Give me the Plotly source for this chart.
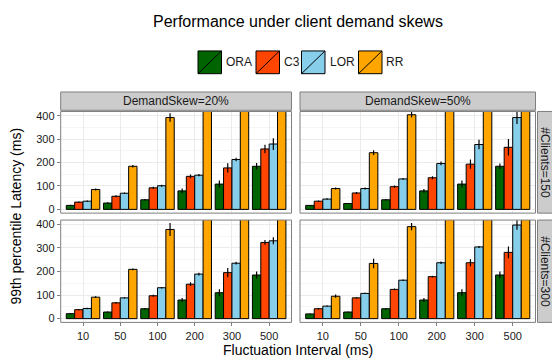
import plotly.graph_objects as go

W, H = 552, 360

intervals = ["10", "50", "100", "200", "300", "500"]
algorithms = ["ORA", "C3", "LOR", "RR"]
colors = {"ORA": "#006400", "C3": "#FF4500", "LOR": "#87CEEB", "RR": "#FFA500"}

# DemandSkew=20%, #Clients=150
s20_c150 = {
    "ORA": [17, 27, 41, 79, 108, 184],
    "C3": [31, 56, 92, 141, 177, 258],
    "LOR": [35, 69, 101, 146, 213, 279],
    "RR": [85, 184, 392, 600, 700, 900],
}
s20_c150_err = {
    "ORA": [3, 3, 3, 10, 15, 14],
    "C3": [3, 4, 5, 8, 20, 18],
    "LOR": [3, 3, 4, 5, 7, 25],
    "RR": [4, 5, 18, 20, 20, 20],
}
# DemandSkew=50%, #Clients=150
s50_c150 = {
    "ORA": [17, 25, 41, 79, 108, 184],
    "C3": [35, 70, 97, 135, 193, 265],
    "LOR": [44, 89, 130, 196, 277, 392],
    "RR": [89, 242, 404, 650, 750, 950],
}
s50_c150_err = {
    "ORA": [2, 2, 3, 8, 15, 12],
    "C3": [3, 4, 5, 6, 20, 35],
    "LOR": [3, 4, 4, 8, 20, 28],
    "RR": [4, 10, 12, 20, 20, 20],
}
# DemandSkew=20%, #Clients=300
s20_c300 = {
    "ORA": [21, 28, 42, 79, 110, 185],
    "C3": [38, 67, 97, 146, 195, 323],
    "LOR": [43, 88, 131, 189, 235, 330],
    "RR": [91, 209, 378, 620, 720, 920],
}
s20_c300_err = {
    "ORA": [2, 2, 3, 8, 15, 15],
    "C3": [3, 3, 4, 8, 20, 10],
    "LOR": [3, 3, 3, 6, 6, 15],
    "RR": [4, 4, 28, 20, 20, 20],
}
# DemandSkew=50%, #Clients=300
s50_c300 = {
    "ORA": [20, 28, 42, 79, 110, 185],
    "C3": [42, 88, 124, 178, 237, 281],
    "LOR": [53, 107, 163, 237, 304, 397],
    "RR": [95, 234, 390, 640, 740, 940],
}
s50_c300_err = {
    "ORA": [2, 2, 3, 8, 15, 15],
    "C3": [3, 3, 4, 4, 15, 25],
    "LOR": [3, 3, 3, 5, 4, 20],
    "RR": [7, 20, 15, 20, 20, 20],
}

y_ticks = [0, 100, 200, 300, 400]
skew_labels = ["DemandSkew=20%", "DemandSkew=50%"]
client_labels = ["#Clients=150", "#Clients=300"]

FONT = "Liberation Sans, Arial, sans-serif"

def px_x(p):
    return p / W

def px_y(p):
    return 1 - p / H

# panel pixel boxes
cols_px = [(60.7, 291.5), (300.0, 535.5)]
rows_px = [(110.7, 213.5), (220.5, 324.0)]

panels = [
    (0, 0, s20_c150, s20_c150_err),
    (0, 1, s50_c150, s50_c150_err),
    (1, 0, s20_c300, s20_c300_err),
    (1, 1, s50_c300, s50_c300_err),
]

fig = go.Figure()
layout = {}
shapes = []
annotations = []

for idx, (r, c, vals, errs) in enumerate(panels):
    n = idx + 1
    xa = "x" if n == 1 else f"x{n}"
    ya = "y" if n == 1 else f"y{n}"
    xkey = "xaxis" if n == 1 else f"xaxis{n}"
    ykey = "yaxis" if n == 1 else f"yaxis{n}"
    for alg in algorithms:
        fig.add_trace(go.Bar(
            x=intervals, y=vals[alg], name=alg,
            marker=dict(color=colors[alg], line=dict(color="black", width=1)),
            error_y=dict(type="data", array=errs[alg], color="black", thickness=1.2, width=0),
            xaxis=xa, yaxis=ya, showlegend=False,
            offsetgroup=alg,
        ))
    x0, x1 = cols_px[c]
    y0, y1 = rows_px[r]
    layout[xkey] = dict(
        domain=[px_x(x0), px_x(x1)], anchor=ya, type="category",
        categoryorder="array", categoryarray=intervals,
        range=[-0.6, 5.6], showgrid=True, gridcolor="#ebebeb", gridwidth=1,
        zeroline=False, showline=False,
        ticks="outside" if r == 1 else "", ticklen=3, tickcolor="#7f7f7f",
        showticklabels=(r == 1),
        tickfont=dict(family=FONT, size=11, color="#1a1a1a"),
    )
    layout[ykey] = dict(
        domain=[px_y(y1), px_y(y0)], anchor=xa,
        range=[-16, 418], tickvals=y_ticks, showgrid=True, gridcolor="#ebebeb",
        gridwidth=1, zeroline=False, showline=False,
        minor=dict(dtick=50, tick0=0, showgrid=True, gridcolor="#f5f5f5", gridwidth=0.6),
        ticks="outside" if c == 0 else "", ticklen=3, tickcolor="#7f7f7f",
        showticklabels=(c == 0),
        tickfont=dict(family=FONT, size=11, color="#1a1a1a"),
    )
    # panel border
    shapes.append(dict(type="rect", xref="paper", yref="paper",
                       x0=px_x(x0), x1=px_x(x1), y0=px_y(y1), y1=px_y(y0),
                       line=dict(color="#7f7f7f", width=1), fillcolor="rgba(0,0,0,0)", layer="above"))

# top strips
for c in range(2):
    x0, x1 = cols_px[c]
    shapes.append(dict(type="rect", xref="paper", yref="paper",
                       x0=px_x(x0), x1=px_x(x1), y0=px_y(109.5), y1=px_y(91),
                       line=dict(color="#7f7f7f", width=1), fillcolor="#cccccc"))
    annotations.append(dict(text=skew_labels[c], xref="paper", yref="paper",
                            x=px_x((x0 + x1) / 2), y=px_y(100.2), showarrow=False,
                            font=dict(family=FONT, size=12, color="#1a1a1a"),
                            xanchor="center", yanchor="middle"))
# right strips
for r in range(2):
    y0, y1 = rows_px[r]
    shapes.append(dict(type="rect", xref="paper", yref="paper",
                       x0=px_x(537.5), x1=px_x(556), y0=px_y(y1), y1=px_y(y0),
                       line=dict(color="#7f7f7f", width=1), fillcolor="#cccccc"))
    annotations.append(dict(text=client_labels[r], xref="paper", yref="paper",
                            x=px_x(545.0), y=px_y((y0 + y1) / 2), showarrow=False,
                            textangle=90, borderpad=0,
                            font=dict(family=FONT, size=12, color="#1a1a1a"),
                            xanchor="center", yanchor="middle"))

# legend (manual keys)
leg_boxes = [(198, 221.5), (256, 279.5), (301.5, 325), (358.5, 382)]
leg_text_x = [224, 281.5, 327.5, 384]
ly0, ly1 = 49.5, 72.5
for alg, (bx0, bx1), tx in zip(algorithms, leg_boxes, leg_text_x):
    shapes.append(dict(type="rect", xref="paper", yref="paper",
                       x0=px_x(bx0), x1=px_x(bx1), y0=px_y(ly1), y1=px_y(ly0),
                       line=dict(color="black", width=1), fillcolor=colors[alg]))
    shapes.append(dict(type="line", xref="paper", yref="paper",
                       x0=px_x(bx0), x1=px_x(bx1), y0=px_y(ly1), y1=px_y(ly0),
                       line=dict(color="black", width=1)))
    annotations.append(dict(text=alg, xref="paper", yref="paper",
                            x=px_x(tx), y=px_y((ly0 + ly1) / 2), showarrow=False,
                            xanchor="left", yanchor="middle",
                            font=dict(family=FONT, size=12, color="#1a1a1a")))

# titles
annotations.append(dict(text="Performance under client demand skews", xref="paper", yref="paper",
                        x=px_x(298), y=px_y(20), showarrow=False, xanchor="center", yanchor="middle",
                        font=dict(family=FONT, size=16, color="black")))
annotations.append(dict(text="Fluctuation Interval (ms)", xref="paper", yref="paper",
                        x=px_x(298), y=px_y(352), showarrow=False, xanchor="center", yanchor="middle",
                        font=dict(family=FONT, size=14, color="black")))
annotations.append(dict(text="99th percentile Latency (ms)", xref="paper", yref="paper",
                        x=px_x(16), y=px_y(217), showarrow=False, textangle=-90,
                        xanchor="center", yanchor="middle",
                        font=dict(family=FONT, size=14, color="black")))

fig.update_layout(
    width=W, height=H, margin=dict(l=0, r=0, t=0, b=0),
    paper_bgcolor="white", plot_bgcolor="white",
    barmode="group", bargap=0.1, bargroupgap=0,
    showlegend=False, shapes=shapes, annotations=annotations,
    **layout,
)

fig.write_html("out.html")
